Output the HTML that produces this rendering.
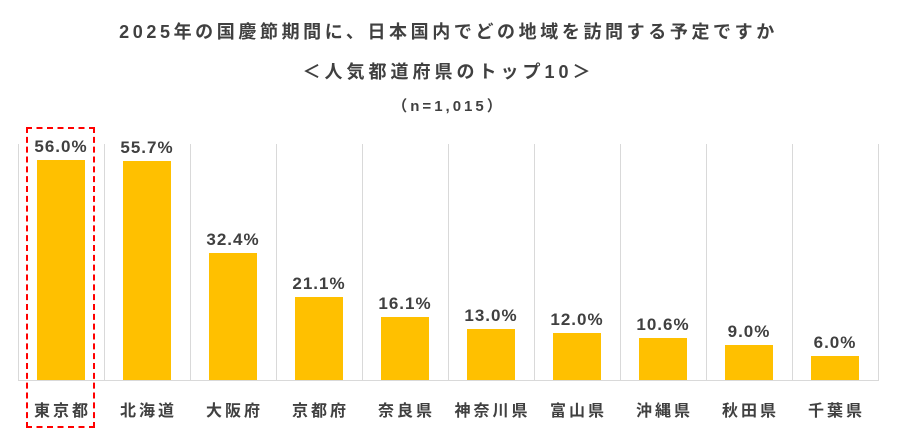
<!DOCTYPE html><html><head><meta charset="utf-8"><style>
body{margin:0;width:897px;height:435px;background:#fff;position:relative;overflow:hidden;font-family:"Liberation Sans","Noto Sans CJK JP",sans-serif;color:#404040}
.t{position:absolute;left:0;width:897px;text-align:center;font-weight:bold}
.g{position:absolute;top:144px;height:236px;width:1px;background:#d9d9d9}
.b{position:absolute;width:48px;background:#FFC000}
.v{position:absolute;width:86px;text-align:center;font-weight:bold;font-size:17px;letter-spacing:1px}
.c{position:absolute;top:397px;width:89px;text-align:center;font-weight:bold;font-size:16px;letter-spacing:3px}
</style></head><body>
<div class="t" style="top:18px;font-size:18px;letter-spacing:3.6px">2025年の国慶節期間に、日本国内でどの地域を訪問する予定ですか</div>
<div class="t" style="top:58px;font-size:18px;letter-spacing:4px">＜人気都道府県のトップ10＞</div>
<div class="t" style="top:95px;font-size:15px;letter-spacing:3px">（n=1,015）</div>
<div style="position:absolute;left:18px;top:380px;width:861px;height:1px;background:#d9d9d9"></div>
<div id="c"></div>
<div style="position:absolute;left:26px;top:127px;width:65px;height:297px;border:2px dashed #ff0000"></div>
<script>
var d=[["東京都",56.0],["北海道",55.7],["大阪府",32.4],["京都府",21.1],["奈良県",16.1],["神奈川県",13.0],["富山県",12.0],["沖縄県",10.6],["秋田県",9.0],["千葉県",6.0]];
var h="";for(var i=0;i<=10;i++)h+='<div class="g" style="left:'+(18+i*86)+'px"></div>';
d.forEach(function(e,i){var x=18+i*86,top=380-e[1]*3.93;
h+='<div class="b" style="left:'+(x+19)+'px;top:'+top+'px;height:'+(380-top)+'px"></div>';
h+='<div class="v" style="left:'+x+'px;top:'+(top-23)+'px">'+e[1].toFixed(1)+'%</div>';
h+='<div class="c" style="left:'+x+'px">'+e[0]+'</div>';});
document.getElementById("c").innerHTML=h;
</script>
</body></html>
